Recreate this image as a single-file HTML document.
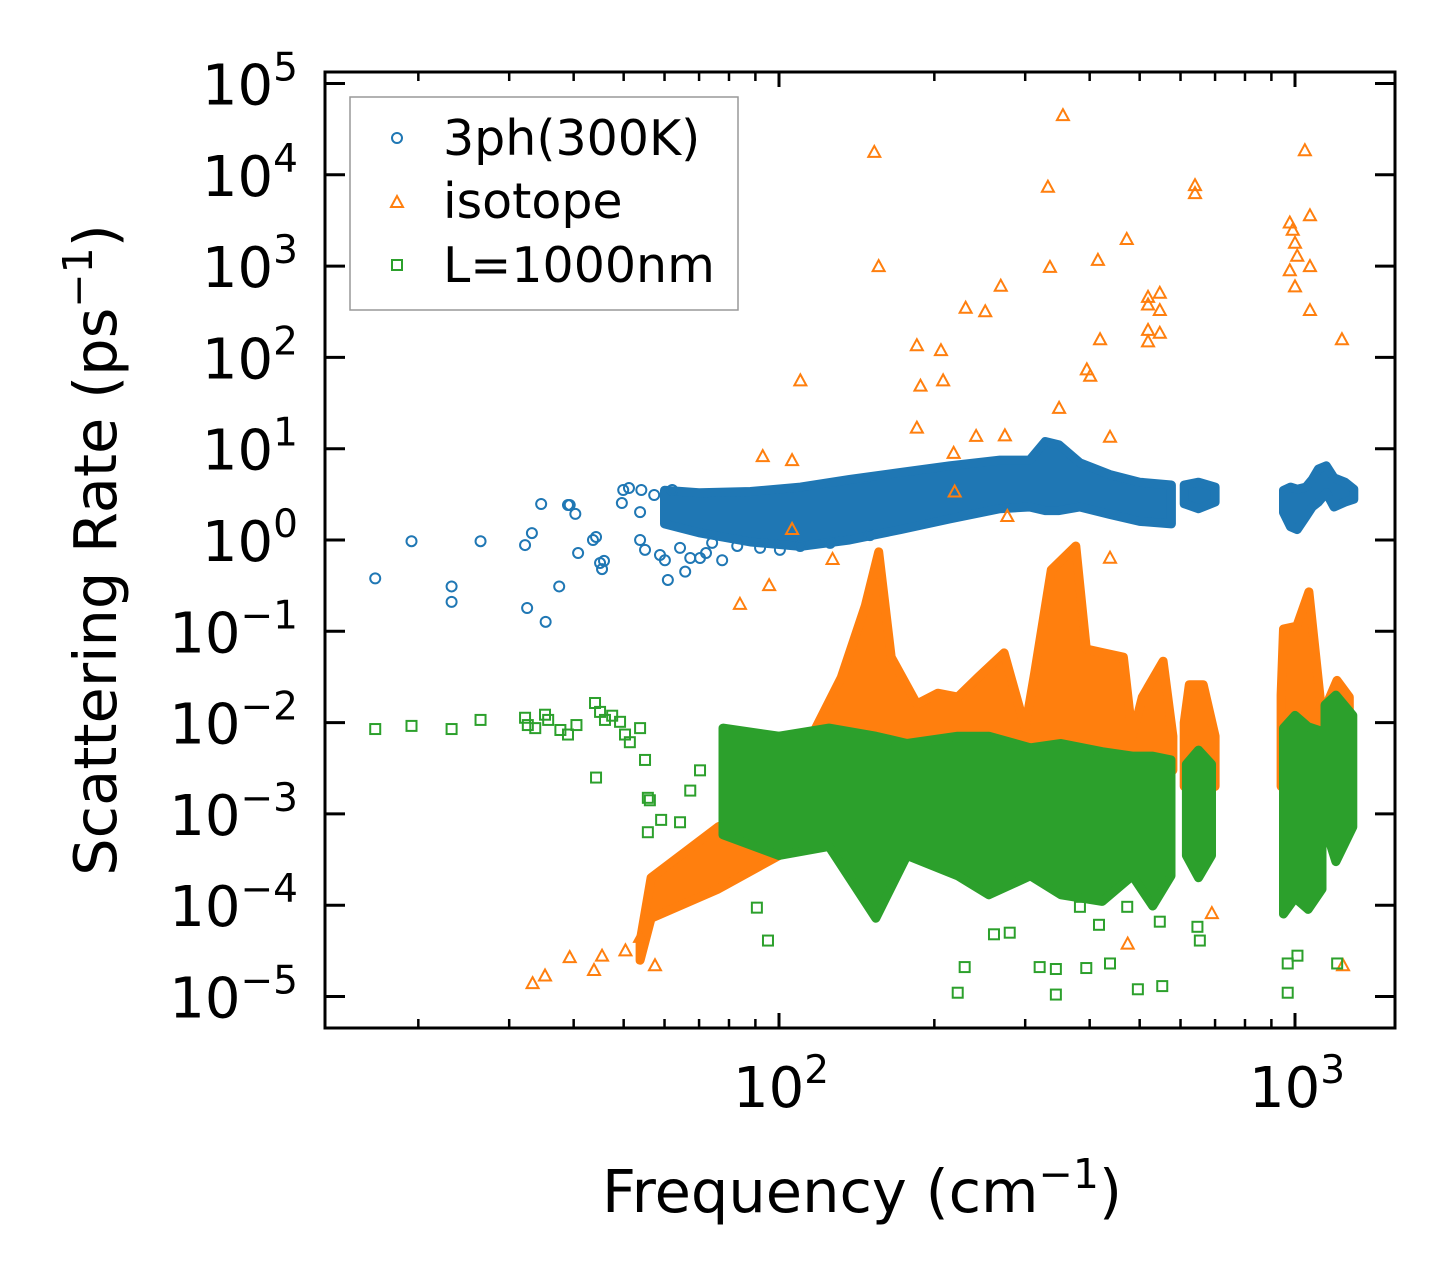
<!DOCTYPE html>
<html><head><meta charset="utf-8">
<style>
html,body{margin:0;padding:0;background:#fff;}
svg{display:block;font-family:"DejaVu Sans","Liberation Sans",sans-serif;}
</style></head>
<body>
<svg id="chart" width="1455" height="1278" viewBox="0 0 1455 1278" xmlns="http://www.w3.org/2000/svg">
<rect x="0" y="0" width="1455" height="1278" fill="#fff"/>
<g id="plot"></g>
<g id="legend">
  <rect x="350" y="97" width="388" height="213" fill="#fff" fill-opacity="0.8" stroke="#999" stroke-width="1.5"/>
  <circle cx="397" cy="138" r="5" fill="none" stroke="#1f77b4" stroke-width="2"/>
  <text x="443" y="155" font-size="49">3ph(300K)</text>
  <path d="M397,196 L403,207 L391,207 Z" fill="none" stroke="#ff7f0e" stroke-width="2"/>
  <text x="443" y="218" font-size="49">isotope</text>
  <rect x="392" y="260" width="10" height="10" fill="none" stroke="#2ca02c" stroke-width="2"/>
  <text x="443" y="282" font-size="49">L=1000nm</text>
</g>
<g id="axes"></g>
<text x="862" y="1212" font-size="59" text-anchor="middle">Frequency (cm<tspan dy="-24" font-size="41">−1</tspan><tspan dy="24">)</tspan></text>
<text transform="translate(116,550) rotate(-90)" font-size="59" text-anchor="middle">Scattering Rate (ps<tspan dy="-24" font-size="41">−1</tspan><tspan dy="24">)</tspan></text>
</svg>
<script>
// ---------------- data ----------------
const yTickExps = [-5,-4,-3,-2,-1,0,1,2,3,4,5];
const xTickExps = [2,3];
const xMinorTicks = [20,30,40,50,60,70,80,90,200,300,400,500,600,700,800,900];

// 3ph(300K) sparse points
const phFreq = [16.5,19.4,23.2,23.2,26.4,32.2,32.5,33.2,34.6,35.3,37.5,39.0,39.3,40.3,40.8,43.6,44.2,45.0,45.4,45.8,49.6,49.9,51.2,53.8,53.8,54.1,55.0,57.3,58.8,60.1,60.9,62.1,64.3,65.8,67.3,70.3,72.2,74.2,77.6,83.0,91.9,100.4,109.9,125.6,150];
const phRate = [0.38,0.97,0.31,0.21,0.97,0.88,0.18,1.19,2.48,0.127,0.31,2.42,2.42,1.93,0.72,1.0,1.08,0.56,0.48,0.59,2.54,3.53,3.71,2.02,1.0,3.53,0.78,3.11,0.685,0.60,0.365,3.53,0.82,0.45,0.635,0.635,0.72,0.93,0.60,0.86,0.82,0.78,0.86,0.93,1.13];
// 3ph dense cloud envelope (null splits clusters)
const phBandFreq = [60,70,88,110,137,172,214,268,306,328,349,383,438,500,576,null,610,650,700,null,950,980,1010,1050,1080,1110,1150,1190,1250,1300];
const phBandLo   = [1.5,1.2,0.95,0.85,1.0,1.3,1.7,2.2,2.3,2.1,2.1,2.3,1.9,1.6,1.5,null,2.5,2.2,2.6,null,2.0,1.4,1.3,1.8,2.3,2.6,3.3,2.3,2.6,2.8];
const phBandHi   = [3.5,3.3,3.4,3.8,4.6,5.5,6.5,7.5,7.5,12,11,7.0,5.2,4.3,4.0,null,4.0,4.3,3.8,null,3.5,3.8,3.6,3.8,4.6,6.0,6.5,4.8,4.3,3.6];

// isotope sparse points
const isoFreq = [355,153,156,332,335,415,472,640,640,230,251,269,185,206,188,208,110,185,274,241,395,401,349,419,438,519,519,519,519,547,547,547,977,990,1000,1010,977,1000,1045,1069,1069,1069,1233,93,106,218,219,106,127,95.7,84,277,438,33.3,35.2,39.3,43.8,45.4,50.4,57.5,53.8,474,690,1239];
const isoRate = [45000,17800,1000,7400,980,1170,1980,7700,6300,350,320,610,136,120,49,56,56,17,14,13.8,74,63,28,158,13.5,460,380,200,150,510,330,186,3000,2500,1800,1300,900,600,18600,3600,1000,330,158,8.3,7.5,9.0,3.4,1.32,0.62,0.32,0.20,1.83,0.64,1.4e-5,1.7e-5,2.7e-5,1.95e-5,2.8e-5,3.2e-5,2.2e-5,4.5e-5,3.8e-5,8.2e-5,2.2e-5];
// isotope dense envelope
const isoBandFreq = [53.8,56.5,76.2,100,132,147,156,165,185,203,222,244,273,300,313,337,376,394,426,465,484,506,555,580,null,610,624,664,700,null,940,950,1008,1064,1128,1206,1274];
const isoBandLo   = [2.5e-5,7.2e-5,1.5e-4,3.5e-4,1e-3,3e-3,3e-3,3e-3,3e-3,3e-3,3e-3,3e-3,3e-3,3e-3,3e-3,3e-3,3e-3,3e-3,3e-3,3e-3,3e-3,3e-3,3e-3,3e-3,null,2e-3,2e-3,2e-3,2e-3,null,2e-3,2e-3,2e-3,2e-3,2e-3,2e-3,2e-3];
const isoBandHi   = [4e-5,2e-4,7.2e-4,1.4e-3,0.031,0.19,0.74,0.052,0.016,0.021,0.019,0.032,0.058,0.0087,0.035,0.47,0.86,0.064,0.058,0.052,0.0071,0.019,0.047,0.0071,null,0.01,0.026,0.026,0.0071,null,0.02,0.106,0.114,0.27,0.012,0.029,0.019];

// L=1000nm sparse points
const bdFreq = [16.5,19.4,23.2,26.4,32.2,32.6,33.7,35.2,35.7,37.7,39.0,40.5,44.2,44.0,45.0,46.0,47.5,49.2,50.3,51.4,53.8,55.0,55.7,56.2,55.7,59.1,64.3,67.3,70.3,90.6,95.2,229,222,261,280,320,344,344,394,438,496,553,968,968,1011,1207,647,654,417,383,473,547];
const bdRate = [0.0085,0.0092,0.0085,0.0107,0.0113,0.0094,0.0087,0.0122,0.0107,0.0083,0.0074,0.0094,0.0025,0.0164,0.0131,0.0107,0.0119,0.0102,0.0074,0.0061,0.0087,0.0039,0.0015,0.00141,0.00063,0.00086,0.00081,0.0018,0.003,9.4e-5,4.1e-5,2.1e-5,1.1e-5,4.8e-5,5e-5,2.1e-5,2.0e-5,1.05e-5,2.05e-5,2.3e-5,1.2e-5,1.3e-5,1.1e-5,2.3e-5,2.8e-5,2.3e-5,5.8e-5,4.1e-5,6.1e-5,9.6e-5,9.6e-5,6.6e-5];
// L=1000nm dense envelope
const bdBandFreq = [77.9,100,125,154,177,222,255,307,352,423,484,530,575,null,616,650,689,null,950,1000,1060,1128,null,1143,1200,1294];
const bdBandLo   = [5.9e-4,3.5e-4,4.4e-4,7.2e-5,3.5e-4,2.1e-4,1.3e-4,2.1e-4,1.3e-4,1.1e-4,2.1e-4,9.8e-5,2.1e-4,null,3.5e-4,2.0e-4,3.5e-4,null,8e-5,1.2e-4,9e-5,1.5e-4,null,7.2e-4,3e-4,7.2e-4];
const bdBandHi   = [0.0087,0.0071,0.0087,0.0071,0.0059,0.0071,0.0071,0.0053,0.0059,0.0048,0.0043,0.0043,0.0039,null,0.0035,0.005,0.0035,null,0.0087,0.012,0.009,0.008,null,0.0156,0.02,0.012];

// ---------------- axes functions ----------------
const X = f => 779 + 516 * (Math.log10(f) - 2);
const Y = v => 540 - 91.3 * Math.log10(v);
const NS = 'http://www.w3.org/2000/svg';
const plot = document.getElementById('plot');
const axes = document.getElementById('axes');
function mk(tag, attrs, parent) {
  const e = document.createElementNS(NS, tag);
  for (const k in attrs) e.setAttribute(k, attrs[k]);
  parent.appendChild(e);
  return e;
}

const clip = mk('clipPath', {id:'clipPlot'}, document.getElementById('chart'));
mk('rect', {x:325, y:72, width:1070, height:956}, clip);
plot.setAttribute('clip-path', 'url(#clipPlot)');

function drawBand(fr, lo, hi, color, name) {
  let seg = [];
  const segs = [];
  for (let i = 0; i < fr.length; i++) {
    if (fr[i] === null) { if (seg.length) segs.push(seg); seg = []; }
    else seg.push(i);
  }
  if (seg.length) segs.push(seg);
  segs.forEach((s, k) => {
    let d = s.map((i, j) => (j ? 'L' : 'M') + X(fr[i]).toFixed(1) + ',' + Y(hi[i]).toFixed(1)).join(' ');
    d += ' ' + s.slice().reverse().map(i => 'L' + X(fr[i]).toFixed(1) + ',' + Y(lo[i]).toFixed(1)).join(' ') + ' Z';
    const p = mk('path', {d: d, fill: color, stroke: color, 'stroke-width': 9, 'stroke-linejoin': 'round'}, plot);
    
    
  });
}
function drawCircles(fr, v, color, name) {
  for (let i = 0; i < fr.length; i++) {
    const c = mk('circle', {cx: X(fr[i]), cy: Y(v[i]), r: 5, fill: 'none', stroke: color, 'stroke-width': 2}, plot);
    
    
  }
}
function drawTris(fr, v, color, name) {
  for (let i = 0; i < fr.length; i++) {
    const x = X(fr[i]), y = Y(v[i]);
    const t = mk('path', {d: `M${x},${y-6} L${x+6},${y+5} L${x-6},${y+5} Z`, fill: 'none', stroke: color, 'stroke-width': 2}, plot);
    
    
  }
}
function drawSquares(fr, v, color, name) {
  for (let i = 0; i < fr.length; i++) {
    const s = mk('rect', {x: X(fr[i]) - 5, y: Y(v[i]) - 5, width: 10, height: 10, fill: 'none', stroke: color, 'stroke-width': 2}, plot);
    
    
  }
}

drawBand(phBandFreq, phBandLo, phBandHi, '#1f77b4', 'three-phonon');
drawCircles(phFreq, phRate, '#1f77b4', 'three-phonon-point');
drawBand(isoBandFreq, isoBandLo, isoBandHi, '#ff7f0e', 'isotope');
drawTris(isoFreq, isoRate, '#ff7f0e', 'isotope-point');
drawBand(bdBandFreq, bdBandLo, bdBandHi, '#2ca02c', 'boundary');
drawSquares(bdFreq, bdRate, '#2ca02c', 'boundary-point');

// frame
const frame = mk('rect', {x:325, y:72, width:1070, height:956, fill:'none', stroke:'#000', 'stroke-width':3}, axes);



// y ticks
yTickExps.forEach(e => {
  const y = Y(Math.pow(10, e));
  const l1 = mk('line', {x1:325, x2:345, y1:y, y2:y, stroke:'#000', 'stroke-width':3}, axes);
  
  
  const l2 = mk('line', {x1:1375, x2:1395, y1:y, y2:y, stroke:'#000', 'stroke-width':3}, axes);
  
  
  const t = mk('text', {x:298, y:y + 21, 'font-size':56, 'text-anchor':'end'}, axes);
  
  
  const base = document.createElementNS(NS, 'tspan'); base.textContent = '10'; t.appendChild(base);
  const sup = document.createElementNS(NS, 'tspan');
  sup.setAttribute('dy', '-24'); sup.setAttribute('font-size', '39');
  sup.textContent = e < 0 ? '−' + (-e) : String(e);
  t.appendChild(sup);
});
// x ticks
xTickExps.forEach(e => {
  const x = X(Math.pow(10, e));
  const b = mk('line', {x1:x, x2:x, y1:1028, y2:1013, stroke:'#000', 'stroke-width':3}, axes);
  
  
  const tp = mk('line', {x1:x, x2:x, y1:72, y2:87, stroke:'#000', 'stroke-width':3}, axes);
  
  
  const t = mk('text', {x:x + 2, y:1107, 'font-size':56, 'text-anchor':'middle'}, axes);
  
  
  const base = document.createElementNS(NS, 'tspan'); base.textContent = '10'; t.appendChild(base);
  const sup = document.createElementNS(NS, 'tspan');
  sup.setAttribute('dy', '-24'); sup.setAttribute('font-size', '39');
  sup.textContent = String(e);
  t.appendChild(sup);
});
xMinorTicks.forEach(f => {
  const x = X(f);
  const b = mk('line', {x1:x, x2:x, y1:1028, y2:1019, stroke:'#000', 'stroke-width':2.5}, axes);
  
  
  const tp = mk('line', {x1:x, x2:x, y1:72, y2:81, stroke:'#000', 'stroke-width':2.5}, axes);
  
  
});
// keep legend above data
const svg = document.getElementById('chart');
svg.appendChild(document.getElementById('legend'));
svg.appendChild(axes);
</script>
</body></html>
